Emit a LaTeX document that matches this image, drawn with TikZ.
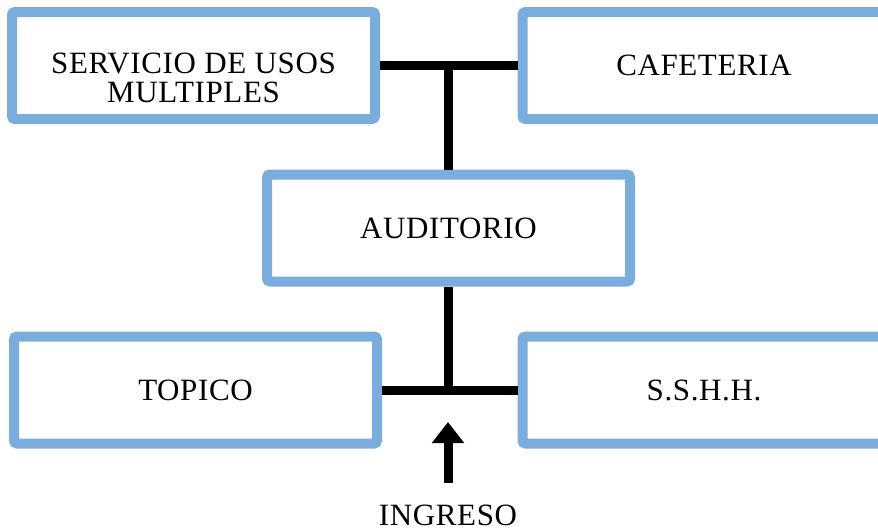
\documentclass[tikz,border=0pt]{standalone}
\usepackage{fontspec}
\setmainfont{Liberation Serif}[LetterSpace=2]
\usetikzlibrary{arrows.meta, positioning}
\definecolor{boxblue}{RGB}{122,173,221}

\begin{document}
\begin{tikzpicture}[
    x=1pt, y=-1pt,
    font=\fontsize{31}{29}\selectfont,
    area/.style={draw=boxblue, line width=10pt, rounded corners=3pt, fill=white, minimum width=363pt, minimum height=107pt, align=center},
    link/.style={line width=9pt},
    arrow/.style={-{Triangle[width=31pt, length=21pt]}, line width=9pt}
]
    \useasboundingbox (0,0) rectangle (878,531);
    \clip (0,0) rectangle (878,531);

    \node[area] (servicio) at (193.5,65.5) {\raisebox{-23pt}[0pt][0pt]{\begin{tabular}{@{}c@{}}SERVICIO DE USOS\\MULTIPLES\end{tabular}}};
    \node[area] (cafeteria) at (704,65.5) {CAFETERIA};
    \node[area] (auditorio) at (448.5,228) {AUDITORIO};
    \node[area] (topico) at (195.5,390) {TOPICO};
    \node[area] (sshh) at (704,390) {S.S.H.H.};
    \node (ingreso) at (448,515) {INGRESO};

    \coordinate (topjoin) at (auditorio.north |- servicio.east);
    \coordinate (botjoin) at (auditorio.south |- topico.east);
    \coordinate (entry) at (448,422);

    \draw[link] (servicio.east) -- (cafeteria.west);
    \draw[link] (topjoin) -- (auditorio.north);
    \draw[link] (auditorio.south) -- (botjoin);
    \draw[link] (topico.east) -- (sshh.west);
    \draw[arrow, shorten <=18pt] (ingreso.north) -- (entry);
\end{tikzpicture}
\end{document}
